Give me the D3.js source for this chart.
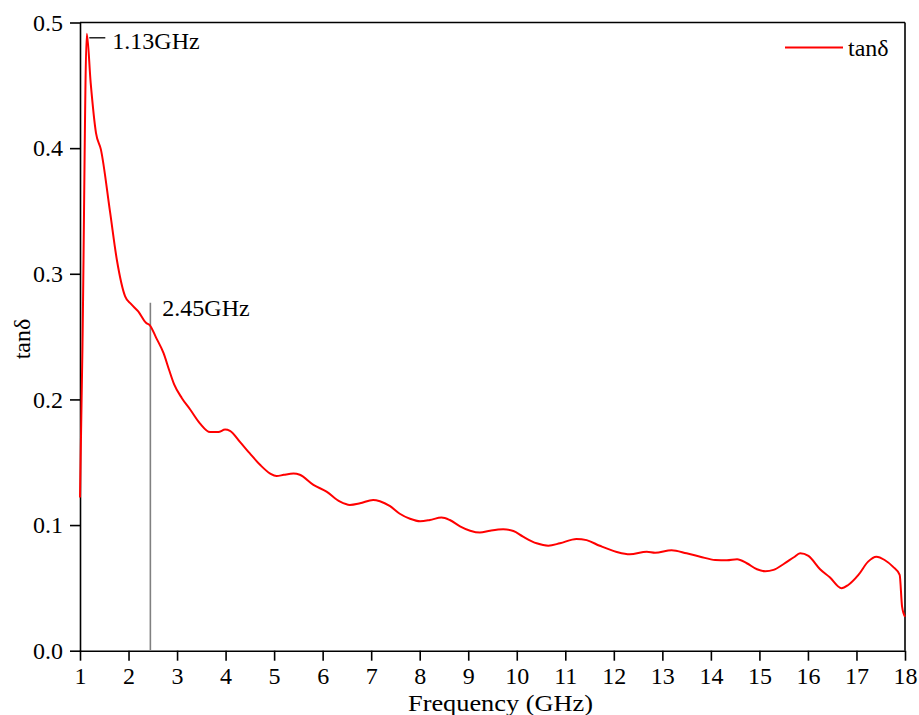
<!DOCTYPE html>
<html>
<head>
<meta charset="utf-8">
<script src="https://cdn.jsdelivr.net/npm/d3@7"></script>
<style>
  body { margin: 0; background: #fff; }
  svg text { font-family: "Liberation Serif", "Times New Roman", serif; fill: #000; }
</style>
</head>
<body>
<div id="vis"></div>
<script>
// tanδ vs frequency
const FRAME_WIDTH = 919;
const FRAME_HEIGHT = 715;
const MARGINS = {left: 80, right: 14, top: 22.5, bottom: 64.3};

const freq = [1.00, 1.05, 1.14, 1.22, 1.33, 1.43, 1.62, 1.76, 1.93, 2.05, 2.20, 2.36, 2.44, 2.57, 2.72, 2.84, 2.94,
  3.10, 3.27, 3.47, 3.68, 3.85, 3.99, 4.09, 4.30, 4.50, 4.71, 4.92, 5.05, 5.20, 5.40, 5.53, 5.81, 6.08, 6.36, 6.56,
  6.77, 7.04, 7.18, 7.39, 7.59, 7.80, 8.01, 8.21, 8.45, 8.62, 8.83, 9.04, 9.24, 9.45, 9.72, 9.93, 10.13, 10.41,
  10.65, 10.89, 11.23, 11.44, 11.71, 12.06, 12.33, 12.68, 12.85, 13.19, 13.50, 13.78, 14.09, 14.33, 14.54, 14.74,
  14.95, 15.12, 15.29, 15.50, 15.71, 15.84, 16.01, 16.25, 16.45, 16.69, 16.83, 17.04, 17.24, 17.41, 17.58, 17.75,
  17.89, 17.94, 18.00];
const tanD = [0.122, 0.240, 0.491, 0.452, 0.412, 0.399, 0.349, 0.311, 0.282, 0.276, 0.270, 0.261, 0.259, 0.249, 0.237,
  0.223, 0.212, 0.201, 0.192, 0.181, 0.174, 0.174, 0.176, 0.175, 0.166, 0.157, 0.148, 0.141, 0.139, 0.140, 0.141,
  0.140, 0.132, 0.1266, 0.1186, 0.116, 0.1173, 0.120, 0.119, 0.115, 0.109, 0.105, 0.103, 0.104, 0.106, 0.104,
  0.099, 0.0955, 0.094, 0.0955, 0.0966, 0.0953, 0.0908, 0.0855, 0.0836, 0.0855, 0.089, 0.088, 0.0835, 0.0786,
  0.0767, 0.0788, 0.078, 0.080, 0.0775, 0.0748, 0.0722, 0.072, 0.0728, 0.0696, 0.0648, 0.0632, 0.0643, 0.069,
  0.0744, 0.0775, 0.0754, 0.0648, 0.0584, 0.0497, 0.0523, 0.0603, 0.0709, 0.0748, 0.0722, 0.0669, 0.0603, 0.035,
  0.027];

const xTicks = d3.range(1, 19);
const yTicks = [0.0, 0.1, 0.2, 0.3, 0.4, 0.5];
const peakFreq = 1.13;
const markFreq = 2.45;
const markTop = 0.277;

const VIS_WIDTH = FRAME_WIDTH - MARGINS.left - MARGINS.right;
const VIS_HEIGHT = FRAME_HEIGHT - MARGINS.top - MARGINS.bottom;

const svg = d3.select("#vis")
  .append("svg")
    .attr("width", FRAME_WIDTH)
    .attr("height", FRAME_HEIGHT);

const X_SCALE = d3.scaleLinear().domain([1, 18]).range([MARGINS.left, MARGINS.left + VIS_WIDTH]);
const Y_SCALE = d3.scaleLinear().domain([0, 0.5]).range([MARGINS.top + VIS_HEIGHT, MARGINS.top]);

// x axis
const xAxis = svg.append("g")
  .attr("transform", "translate(0," + (MARGINS.top + VIS_HEIGHT) + ")")
  .call(d3.axisBottom(X_SCALE).tickValues(xTicks).tickFormat(d3.format("d")).tickSize(10).tickPadding(6).tickSizeOuter(0));

// y axis
const yAxis = svg.append("g")
  .attr("transform", "translate(" + MARGINS.left + ",0)")
  .call(d3.axisLeft(Y_SCALE).tickValues(yTicks).tickFormat(d3.format(".1f")).tickSize(10).tickPadding(7).tickSizeOuter(0));

[xAxis, yAxis].forEach((g) => {
  g.selectAll("text").attr("font-size", "24px").attr("font-family", "Liberation Serif");
  g.selectAll("line").attr("stroke-width", 1.6);
  g.select(".domain").attr("stroke-width", 1.6);
});

// top and right frame lines
svg.append("line")
  .attr("x1", X_SCALE(1)).attr("x2", X_SCALE(18))
  .attr("y1", Y_SCALE(0.5)).attr("y2", Y_SCALE(0.5))
  .attr("stroke", "#000").attr("stroke-width", 1.6);
svg.append("line")
  .attr("x1", X_SCALE(18)).attr("x2", X_SCALE(18))
  .attr("y1", Y_SCALE(0.5)).attr("y2", Y_SCALE(0))
  .attr("stroke", "#000").attr("stroke-width", 1.6);

// 2.45 GHz marker
svg.append("line")
  .attr("x1", X_SCALE(markFreq)).attr("x2", X_SCALE(markFreq))
  .attr("y1", Y_SCALE(0)).attr("y2", Y_SCALE(markTop))
  .attr("stroke", "#808080").attr("stroke-width", 1.6);
svg.append("text")
  .attr("x", X_SCALE(markFreq) + 12)
  .attr("y", Y_SCALE(markTop) + 13)
  .attr("font-size", "24px")
  .text("2.45GHz");

// data line
const points = freq.map((f, i) => [f, tanD[i]]);
const line = d3.line()
  .x((d) => X_SCALE(d[0]))
  .y((d) => Y_SCALE(d[1]))
  .curve(d3.curveMonotoneX);

svg.append("path")
  .datum(points)
  .attr("fill", "none")
  .attr("stroke", "#ff0000")
  .attr("stroke-width", 2)
  .attr("stroke-linejoin", "round")
  .attr("d", line);

// 1.13 GHz label
const peakVal = d3.max(tanD);
svg.append("line")
  .attr("x1", X_SCALE(peakFreq) + 3).attr("x2", X_SCALE(peakFreq) + 19)
  .attr("y1", Y_SCALE(peakVal) + 4).attr("y2", Y_SCALE(peakVal) + 4)
  .attr("stroke", "#000").attr("stroke-width", 1.3);
svg.append("text")
  .attr("x", X_SCALE(peakFreq) + 26)
  .attr("y", Y_SCALE(peakVal) + 15)
  .attr("font-size", "24px")
  .text("1.13GHz");

// legend
svg.append("line")
  .attr("x1", 785).attr("x2", 843)
  .attr("y1", 47.5).attr("y2", 47.5)
  .attr("stroke", "#ff0000").attr("stroke-width", 2);
svg.append("text")
  .attr("x", 848).attr("y", 56)
  .attr("font-size", "24px")
  .text("tanδ");

// axis titles
svg.append("text")
  .attr("x", 500.5).attr("y", 711)
  .attr("text-anchor", "middle")
  .attr("font-size", "24px")
  .attr("textLength", 185)
  .attr("lengthAdjust", "spacingAndGlyphs")
  .text("Frequency (GHz)");
svg.append("text")
  .attr("transform", "translate(30,339) rotate(-90)")
  .attr("text-anchor", "middle")
  .attr("font-size", "24px")
  .text("tanδ");
</script>
</body>
</html>
